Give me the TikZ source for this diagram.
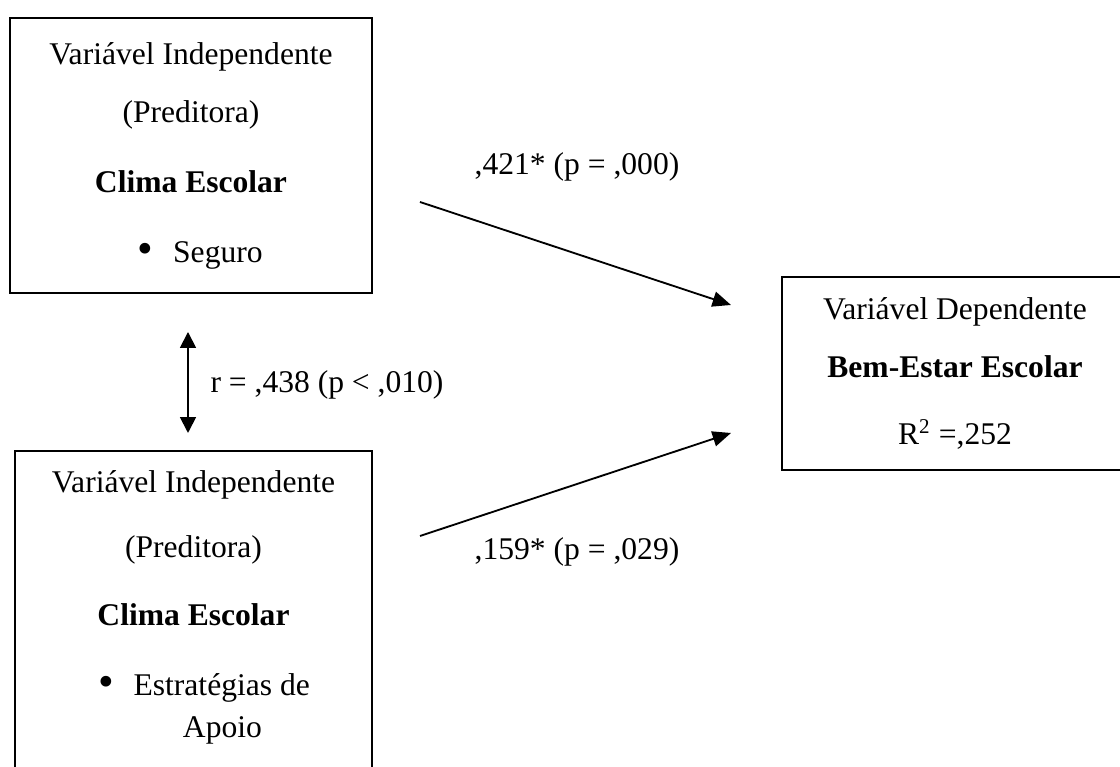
\documentclass[tikz,border=0pt]{standalone}
\usepackage{fontspec}
\setmainfont{Liberation Serif}
\usetikzlibrary{arrows.meta}
\newcommand{\bigbullet}{\raisebox{-0.4pt}{\fontsize{17}{17}\selectfont\textbullet}}
\begin{document}
\begin{tikzpicture}[x=0.38pt,y=-0.38pt,
  box/.style={draw,line width=0.75pt,align=center,inner sep=0pt,
    font=\fontsize{12}{22}\selectfont},
  link/.style={line width=0.7pt,-{Triangle[length=7pt,width=5.8pt]}},
  corrlink/.style={line width=0.7pt,{Triangle[length=6pt,width=6pt]}-{Triangle[length=6pt,width=6pt]}},
  lbl/.style={inner sep=0pt,font=\fontsize{12}{14}\selectfont}]
\clip (0,0) rectangle (1120,767);

\node[box,minimum width=137.6pt,minimum height=104.5pt] (clima1) at (191,155.5)
  {Variável Independente\\(Preditora)\\[4.6pt]\textbf{Clima Escolar}\\[4.6pt]\hspace*{7pt}\bigbullet\hspace{7.5pt}Seguro};

\node[box,anchor=north,minimum width=135.7pt,inner ysep=7.5pt,text depth=60pt] (clima2) at (193.5,450)
  {Variável Independente\\[2.7pt](Preditora)\\[3.8pt]\textbf{Clima Escolar}\\[4.6pt]\hspace*{8pt}\bigbullet\hspace{7.5pt}Estratégias de\\[-6pt]\hspace*{22pt}Apoio};

\node[box,minimum width=131.5pt,minimum height=73.3pt] (bem) at (955,373.5)
  {Variável Dependente\\\textbf{Bem-Estar Escolar}\\[3.5pt]R\textsuperscript{2} =,252};

\coordinate (a1s) at (420,202);
\coordinate (a1e) at (731,305);
\coordinate (a2s) at (420,536);
\coordinate (a2e) at (731,433);
\coordinate (rtop) at (188,332);
\coordinate (rbot) at (188,433);

\draw[link] (a1s) -- (a1e);
\draw[link] (a2s) -- (a2e);
\draw[corrlink] (rtop) -- (rbot);

\node[lbl] (beta1) at (577,167) {,421* (p = ,000)};
\node[lbl] (beta2) at (577,552) {,159* (p = ,029)};
\node[lbl,anchor=west] (corr) at (210,385) {r = ,438 (p < ,010)};
\end{tikzpicture}
\end{document}
